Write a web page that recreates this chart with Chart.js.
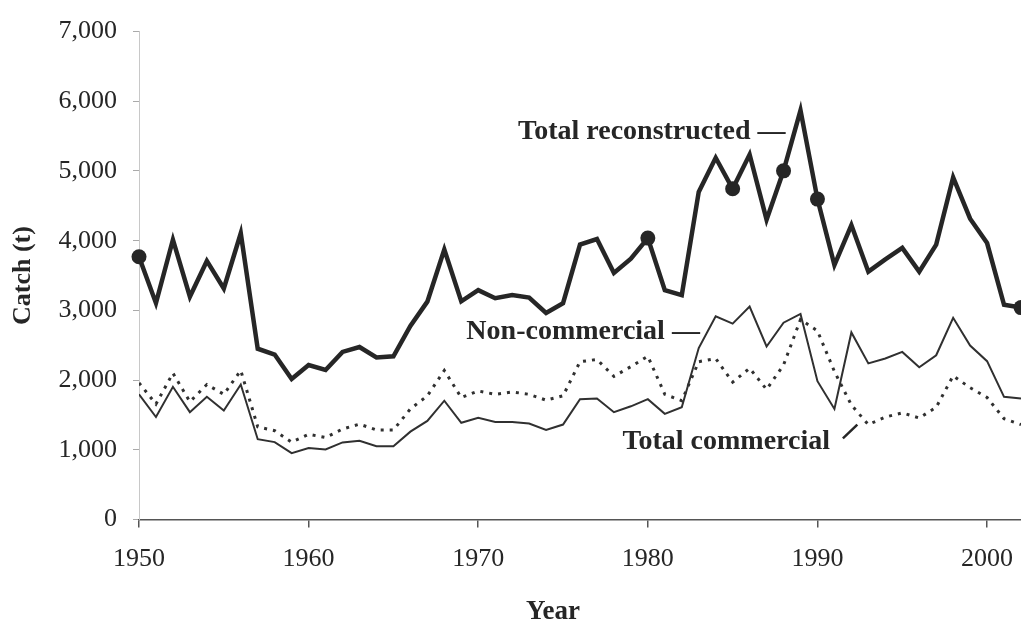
<!DOCTYPE html>
<html>
<head>
<meta charset="utf-8">
<script src="https://cdn.jsdelivr.net/npm/chart.js@4"></script>
<style>
  body { margin: 0; background: #fff; }
  canvas { display: block; }
</style>
</head>
<body>
<canvas id="myChart" width="1021" height="629"></canvas>
<script>
const years = [1950, 1951, 1952, 1953, 1954, 1955, 1956, 1957, 1958, 1959,
    1960, 1961, 1962, 1963, 1964, 1965, 1966, 1967, 1968, 1969,
    1970, 1971, 1972, 1973, 1974, 1975, 1976, 1977, 1978, 1979,
    1980, 1981, 1982, 1983, 1984, 1985, 1986, 1987, 1988, 1989,
    1990, 1991, 1992, 1993, 1994, 1995, 1996, 1997, 1998, 1999,
    2000, 2001, 2002]

const totalReconstructed = [3770, 3104, 4014, 3196, 3710, 3314, 4106, 2450, 2366, 2016,
    2216, 2146, 2404, 2474, 2324, 2342, 2776, 3126, 3874, 3130,
    3290, 3174, 3220, 3183, 2963, 3104, 3944, 4023, 3537, 3742,
    4037, 3290, 3220, 4700, 5190, 4745, 5236, 4302, 5002, 5871,
    4597, 3650, 4224, 3556, 3733, 3896, 3556, 3944, 4909, 4316,
    3966, 3080, 3040]

const nonCommercial = [1796, 1470, 1904, 1540, 1760, 1564, 1936, 1152, 1110, 952,
    1026, 1004, 1106, 1130, 1050, 1050, 1260, 1414, 1704, 1388,
    1458, 1400, 1400, 1376, 1284, 1362, 1726, 1736, 1540, 1624,
    1726, 1516, 1610, 2460, 2916, 2810, 3056, 2482, 2824, 2950,
    1984, 1586, 2684, 2240, 2310, 2404, 2184, 2356, 2894, 2496,
    2272, 1760, 1736]

const totalCommercial = [1960, 1656, 2100, 1690, 1936, 1796, 2138, 1330, 1274, 1110,
    1222, 1176, 1298, 1368, 1284, 1284, 1586, 1774, 2138, 1750,
    1844, 1796, 1830, 1796, 1712, 1774, 2264, 2296, 2054, 2194,
    2342, 1796, 1704, 2264, 2310, 1970, 2170, 1866, 2216, 2870,
    2706, 2124, 1642, 1362, 1470, 1530, 1456, 1610, 2062, 1890,
    1750, 1446, 1362]

const tickYears = [1950, 1960, 1970, 1980, 1990, 2000]

// years marked with a dot on the reconstructed line
const markedYears = [1950, 1980, 1985, 1988, 1990, 2002]

// series labels written on the plot: [text, year, value]
const labelNotes = [
    ['Total reconstructed \u2014', 1972.35, 5560],
    ['Non-commercial \u2014', 1969.3, 2690],
    ['Total commercial', 1978.5, 1120]
]
// leader line for "Total commercial": [year, value] pairs
const commercialLeader = [[1991.5, 1165], [1992.35, 1360]]

const ink = '#262626'
const serif = "'Liberation Serif', 'Times New Roman', serif"

const toPoints = (values) => values.map((v, i) => ({ x: years[i], y: v }))

const notesPlugin = {
    id: 'notes',
    afterDraw(chart) {
        const { ctx, scales: { x, y } } = chart
        ctx.save()
        ctx.fillStyle = ink
        ctx.font = `bold 28px ${serif}`
        ctx.textAlign = 'left'
        ctx.textBaseline = 'middle'
        labelNotes.forEach(([text, yr, val]) => {
            ctx.fillText(text, x.getPixelForValue(yr), y.getPixelForValue(val))
        })
        ctx.strokeStyle = ink
        ctx.lineWidth = 2.5
        ctx.beginPath()
        ctx.moveTo(x.getPixelForValue(commercialLeader[0][0]), y.getPixelForValue(commercialLeader[0][1]))
        ctx.lineTo(x.getPixelForValue(commercialLeader[1][0]), y.getPixelForValue(commercialLeader[1][1]))
        ctx.stroke()
        // x axis title
        ctx.font = `bold 27px ${serif}`
        ctx.textAlign = 'center'
        ctx.fillText('Year', 553, 612)
        ctx.restore()
    }
}

const ctx = document.getElementById('myChart')

new Chart(ctx, {
    type: 'line',
    data: {
        datasets: [
            {
                label: 'Total reconstructed',
                data: toPoints(totalReconstructed),
                borderColor: ink,
                backgroundColor: ink,
                borderWidth: 4.5,
                pointRadius: years.map(yr => markedYears.includes(yr) ? 7.5 : 0),
                pointBorderWidth: 0,
                tension: 0,
                clip: false
            },
            {
                label: 'Non-commercial',
                data: toPoints(nonCommercial),
                borderColor: '#303030',
                borderWidth: 2,
                pointRadius: 0,
                tension: 0
            },
            {
                label: 'Total commercial',
                data: toPoints(totalCommercial),
                borderColor: '#303030',
                borderWidth: 3,
                borderDash: [3, 6],
                pointRadius: 0,
                tension: 0
            }
        ]
    },
    options: {
        responsive: false,
        animation: false,
        devicePixelRatio: 1,
        layout: { autoPadding: false, padding: { top: 23, right: 0, left: 0, bottom: 0 } },
        plugins: {
            legend: { display: false },
            tooltip: { enabled: false }
        },
        scales: {
            x: {
                type: 'linear',
                min: 1950,
                max: 2002,
                border: { color: '#555', width: 1.5 },
                grid: { drawOnChartArea: false, tickLength: 8, color: '#555', lineWidth: 1.5 },
                ticks: {
                    padding: 16,
                    color: ink,
                    font: { family: serif, size: 26 },
                    callback: v => String(v)
                },
                afterBuildTicks: s => { s.ticks = tickYears.map(v => ({ value: v })) },
                afterFit: s => {
                    s.height = 109.5
                    s.paddingLeft = 0
                    s.paddingRight = 0
                }
            },
            y: {
                min: 0,
                max: 7000,
                border: { color: '#c8c8c8', width: 1 },
                grid: { drawOnChartArea: false, tickLength: 6, color: '#aaa' },
                ticks: {
                    stepSize: 1000,
                    padding: 16,
                    color: ink,
                    font: { family: serif, size: 26 },
                    callback: v => v.toLocaleString('en-US')
                },
                title: {
                    display: true,
                    text: 'Catch (t)',
                    color: ink,
                    font: { family: serif, size: 26, weight: 'bold' },
                    padding: { top: 8, bottom: 0 }
                },
                afterFit: s => { s.width = 139 }
            }
        }
    },
    plugins: [notesPlugin]
})
</script>
</body>
</html>
